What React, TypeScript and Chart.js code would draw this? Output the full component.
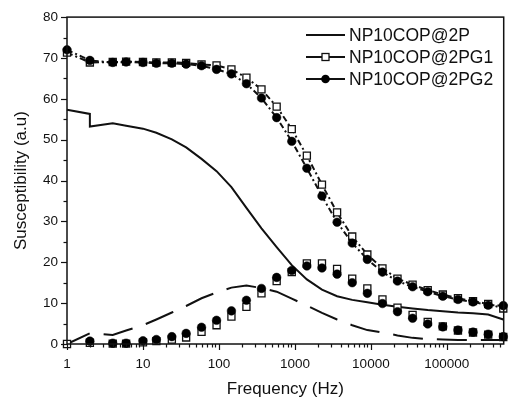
import React, { useEffect, useRef } from "react";
import { Chart, registerables } from "chart.js";

Chart.register(...registerables);

// Frequencies (Hz) of the measured points
const freqs = [1, 2, 4, 6, 10, 15, 24, 37, 59, 93, 146, 230, 363, 575, 909, 1436, 2270, 3590, 5680, 8980, 14200, 22400, 35400, 56000, 88500, 140000, 221000, 350000, 553000];

// NP10COP@2P real part (has a step at 2 Hz)
const p2Freqs = [1, 2, 2, 4, 6, 10, 15, 24, 37, 59, 93, 146, 230, 363, 575, 909, 1436, 2270, 3590, 5680, 8980, 14200, 22400, 35400, 56000, 88500, 140000, 221000, 350000, 553000];
const p2Real = [57.3, 56.3, 53.2, 54.0, 53.4, 52.7, 51.7, 50.1, 48.1, 45.3, 42.3, 38.4, 33.3, 28.3, 23.7, 19.3, 15.8, 13.3, 11.7, 10.8, 10.2, 9.6, 9.1, 8.7, 8.3, 8.0, 7.7, 7.5, 7.2, 6.0];
// NP10COP@2P imaginary part (dashed line)
const p2Imag = [0, 2.6, 2.2, 3.3, 4.6, 6.0, 7.7, 9.3, 11.2, 12.6, 13.8, 14.3, 13.7, 12.8, 11.1, 9.4, 7.6, 6.0, 4.6, 3.4, 2.8, 2.1, 1.5, 1.2, 1.1, 1.0, 1.0, 1.0, 1.0];

// NP10COP@2PG1 (open squares)
const g1Real = [71.3, 68.9, 69.0, 69.1, 69.0, 68.9, 68.9, 68.8, 68.4, 68.2, 67.2, 65.2, 62.3, 58.1, 52.6, 46.1, 39.0, 32.2, 26.3, 21.9, 18.5, 16.0, 14.5, 13.2, 12.1, 11.2, 10.5, 9.8, 8.7];
const g1Imag = [0, 0.3, 0.1, 0.1, 0.4, 0.7, 1.1, 1.6, 3.0, 4.6, 6.7, 9.1, 12.4, 15.4, 17.6, 19.7, 19.7, 18.4, 16.0, 13.6, 10.9, 8.9, 7.1, 5.4, 4.3, 3.3, 2.8, 2.3, 1.7];

// NP10COP@2PG2 (filled circles)
const g2Real = [72.0, 69.4, 68.9, 69.0, 68.9, 68.7, 68.7, 68.5, 68.1, 67.2, 66.1, 63.7, 60.2, 55.4, 49.6, 43.0, 36.2, 29.8, 24.7, 20.7, 17.6, 15.4, 14.0, 12.8, 11.7, 10.9, 10.3, 9.5, 9.4];
const g2Imag = [null, 0.7, 0.2, 0.2, 0.8, 1.1, 1.8, 2.6, 4.1, 5.8, 8.1, 10.7, 13.6, 16.3, 18.0, 19.1, 18.6, 17.1, 15.0, 12.4, 9.9, 7.9, 6.3, 4.9, 4.2, 3.4, 2.9, 2.4, 1.8];

const legendLabels = ["NP10COP@2P", "NP10COP@2PG1", "NP10COP@2PG2"];
const xTickLabels = [1, 10, 100, 1000, 10000, 100000];
const yTickValues = [0, 10, 20, 30, 40, 50, 60, 70, 80];

const FONT = "'Liberation Sans', Arial, Helvetica, sans-serif";

const pts = (xs: number[], ys: (number | null)[]) =>
  xs.map((x, i) => ({ x, y: ys[i] })).filter((p) => p.y !== null);

const framePlugin = {
  id: "frameTicks",
  afterDraw(chart: any) {
    const { ctx, chartArea } = chart;
    const xs = chart.scales.x;
    const ys = chart.scales.y;
    ctx.save();
    ctx.strokeStyle = "#111";
    ctx.lineWidth = 1.5;
    ctx.strokeRect(chartArea.left, chartArea.top, chartArea.right - chartArea.left, chartArea.bottom - chartArea.top);
    ctx.lineWidth = 1.2;
    // y ticks (major every 10, minor every 5)
    for (let v = 0; v <= 80; v += 5) {
      const y = Math.round(ys.getPixelForValue(v)) + 0.5;
      const len = v % 10 === 0 ? 6 : 3.5;
      ctx.beginPath();
      ctx.moveTo(chartArea.left - len, y);
      ctx.lineTo(chartArea.left, y);
      ctx.stroke();
    }
    // x ticks (log decades major, 2..9 minor)
    for (let d = 0; d <= 5; d++) {
      for (let m = 1; m <= 9; m++) {
        const v = m * Math.pow(10, d);
        if (v > xs.max) continue;
        const x = Math.round(xs.getPixelForValue(v)) + 0.5;
        const len = m === 1 ? 6 : 3.5;
        ctx.beginPath();
        ctx.moveTo(x, chartArea.bottom);
        ctx.lineTo(x, chartArea.bottom + len);
        ctx.stroke();
      }
    }
    // legend
    const lx0 = 306;
    const lx1 = 345;
    const rows = [35, 57, 79];
    ctx.font = `17.5px ${FONT}`;
    ctx.textBaseline = "middle";
    ctx.textAlign = "left";
    ctx.fillStyle = "#111";
    rows.forEach((ry, i) => {
      ctx.strokeStyle = "#111";
      ctx.lineWidth = 2;
      ctx.beginPath();
      ctx.moveTo(lx0, ry);
      ctx.lineTo(lx1, ry);
      ctx.stroke();
      const cx = (lx0 + lx1) / 2;
      if (i === 1) {
        ctx.fillStyle = "#fff";
        ctx.lineWidth = 1.3;
        ctx.fillRect(cx - 3.5, ry - 3.5, 7, 7);
        ctx.strokeRect(cx - 3.5, ry - 3.5, 7, 7);
      } else if (i === 2) {
        ctx.fillStyle = "#000";
        ctx.beginPath();
        ctx.arc(cx, ry, 4.3, 0, Math.PI * 2);
        ctx.fill();
      }
      ctx.fillStyle = "#111";
      ctx.fillText(legendLabels[i], lx1 + 4, ry + 1);
    });
    ctx.restore();
  },
};

export default function App() {
  const ref = useRef<HTMLCanvasElement>(null);
  useEffect(() => {
    if (!ref.current) return;
    const dash = [6, 3, 2, 3];
    const chart = new Chart(ref.current, {
      type: "line",
      data: {
        datasets: [
          {
            label: legendLabels[0],
            data: pts(p2Freqs, p2Real),
            borderColor: "#111",
            borderWidth: 2,
            pointRadius: 0,
            tension: 0,
            order: 3,
          },
          {
            label: legendLabels[1],
            data: pts(freqs, g1Real),
            borderColor: "#111",
            borderWidth: 2,
            borderDash: dash,
            pointStyle: "rect",
            pointRadius: 5,
            pointBorderWidth: 1.3,
            pointBackgroundColor: "#fff",
            pointBorderColor: "#111",
            order: 2,
          },
          {
            label: legendLabels[2],
            data: pts(freqs, g2Real),
            borderColor: "#111",
            borderWidth: 2,
            borderDash: dash,
            pointStyle: "circle",
            pointRadius: 4.3,
            pointBorderWidth: 0.5,
            pointBackgroundColor: "#000",
            pointBorderColor: "#000",
            order: 1,
          },
          {
            label: "2P imag",
            data: pts(freqs, p2Imag),
            borderColor: "#111",
            borderWidth: 2,
            borderDash: [30, 14],
            borderDashOffset: 5,
            pointRadius: 0,
            order: 3,
          },
          {
            label: "2PG1 imag",
            data: pts(freqs, g1Imag),
            showLine: false,
            pointStyle: "rect",
            pointRadius: 5,
            pointBorderWidth: 1.3,
            pointBackgroundColor: "#fff",
            pointBorderColor: "#111",
            order: 2,
          },
          {
            label: "2PG2 imag",
            data: pts(freqs, g2Imag),
            showLine: false,
            pointStyle: "circle",
            pointRadius: 4.3,
            pointBorderWidth: 0.5,
            pointBackgroundColor: "#000",
            pointBorderColor: "#000",
            order: 1,
          },
        ],
      },
      options: {
        animation: false,
        responsive: false,
        devicePixelRatio: 1,
        layout: { padding: { top: 16, right: 2, left: 0, bottom: 0 } },
        elements: { line: { fill: false }, point: { hoverRadius: 4 } },
        datasets: { line: { clip: false } as any },
        plugins: {
          legend: { display: false },
          title: { display: false },
          tooltip: { enabled: false },
        },
        scales: {
          x: {
            type: "logarithmic",
            min: 1,
            max: 560000,
            afterFit: (s: any) => {
              s.height = 61;
            },
            afterBuildTicks: (s: any) => {
              s.ticks = xTickLabels.map((v) => ({ value: v }));
            },
            grid: { display: false, drawTicks: false },
            border: { display: false },
            ticks: {
              color: "#111",
              font: { family: FONT, size: 13.5 },
              padding: 12,
              maxRotation: 0,
              autoSkip: false,
              callback: (v: any) => String(v),
            },
            title: {
              display: true,
              text: "Frequency (Hz)",
              color: "#111",
              font: { family: FONT, size: 17 },
              padding: { bottom: 5, top: 0 },
            },
          },
          y: {
            type: "linear",
            min: 0,
            max: 80,
            afterFit: (s: any) => {
              s.width = 67;
            },
            afterBuildTicks: (s: any) => {
              s.ticks = yTickValues.map((v) => ({ value: v }));
            },
            grid: { display: false, drawTicks: false },
            border: { display: false },
            ticks: {
              color: "#111",
              font: { family: FONT, size: 13.5 },
              padding: 9,
              callback: (v: any) => String(v),
            },
            title: {
              display: true,
              text: "Susceptibility (a.u)",
              color: "#111",
              font: { family: FONT, size: 17 },
              padding: { top: 11, bottom: 0 },
            },
          },
        },
      },
      plugins: [framePlugin],
    });
    return () => chart.destroy();
  }, []);
  return (
    <div style={{ position: "fixed", left: 0, top: 0, width: 510, height: 405, background: "#fff" }}>
      <canvas ref={ref} width={510} height={405} style={{ display: "block", width: 510, height: 405 }} />
    </div>
  );
}
